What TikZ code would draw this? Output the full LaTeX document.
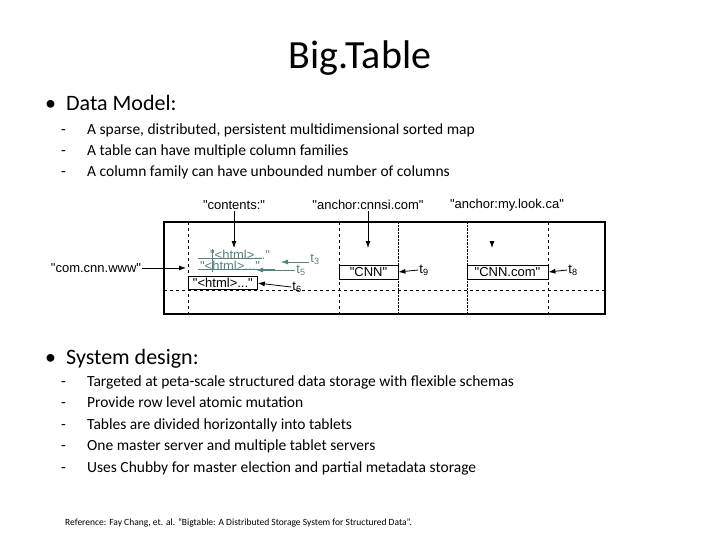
\documentclass[tikz,border=0pt]{standalone}
\usepackage{fontspec}
\usetikzlibrary{arrows.meta}
\setmainfont{Carlito}
\newfontfamily\hv{Liberation Sans}
\begin{document}
\begin{tikzpicture}[x=1pt,y=-1pt,
  lbl/.style={font=\hv\fontsize{13}{14}\selectfont,inner sep=1pt},
  gr/.style={lbl,text=gray!70!teal},
  cell/.style={draw,thick,lbl,inner sep=0pt},
  arr/.style={-{Latex[length=7pt,width=5pt]},thick},
  garr/.style={-{Latex[length=7pt,width=5pt]},thick,gray!70!teal},
  item/.style={anchor=base west,font=\fontsize{15.5}{18}\selectfont,inner sep=0pt},
  head/.style={anchor=base west,font=\fontsize{22}{26}\selectfont,inner sep=0pt}]
\useasboundingbox (0,0) rectangle (720,540);
\node (title) at (360,58) {\fontsize{40}{46}\selectfont Big.Table};
\node[head] (b1) at (45,111) {\textbullet\hspace{10pt}Data Model:};
\foreach \y/\t [count=\i] in {135/{A sparse, distributed, persistent multidimensional sorted map},156/{A table can have multiple column families},177/{A column family can have unbounded number of columns}}{
  \node[item] (d\i) at (61,\y) {-};
  \node[item] (i\i) at (87,\y) {\t};}
% diagram
\draw[line width=2pt] (164,222) rectangle (605,314);
\draw[dashed] (164,290) -- (605,290);
\draw[dashed] (188,222) -- (188,314);
\draw[dashed] (339,222) -- (339,314);
\draw[densely dotted] (398,222) -- (398,314);
\draw[densely dotted] (467,222) -- (467,314);
\draw[dashed] (548,222) -- (548,314);
\node[lbl] (row) at (96,268) {"com.cnn.www"};
\node[lbl] (c1) at (234,205) {"contents:"};
\node[lbl] (c2) at (368,205) {"anchor:cnnsi.com"};
\node[lbl] (c3) at (507,205) {"anchor:my.look.ca"};
\node[cell,minimum width=69pt,minimum height=13pt,anchor=south west] (h6) at (188,290) {"<html>..."};
\node[gr] (h5) at (230,266) {"<html>..."};
\node[gr] (h3) at (240,255) {"<html>..."};
\draw[gray!70!teal] (212,249)--(212,272) (198,258)--(262,258) (198,269)--(275,269);
\node[cell,minimum width=59pt,minimum height=14pt] (cnn) at (368.5,272) {"CNN"};
\node[cell,minimum width=81pt,minimum height=14pt] (cnncom) at (507.5,272) {"CNN.com"};
\node[lbl] (t6) at (297,287) {t\textsubscript{6}};
\node[gr] (t5) at (301,270) {t\textsubscript{5}};
\node[gr] (t3) at (315,259) {t\textsubscript{3}};
\node[lbl] (t9) at (424,270) {t\textsubscript{9}};
\node[lbl] (t8) at (573,270) {t\textsubscript{8}};
\coordinate (a1) at (234,248); \coordinate (a2) at (368,248); \coordinate (a3) at (492,248);
\draw[arr] (c1) -- (a1);
\draw[arr] (c2) -- (a2);
\draw[arr] (492,243) -- (a3);
\draw[arr] (row) -- (186,268);
\draw[arr] (t6.west) -- (h6.east);
\draw[garr] (t5.west) -- (256,270);
\draw[garr] (t3.west) ++(0,3) -- (281,262);
\draw[arr] (t9.west) -- (cnn.east);
\draw[arr] (t8.west) -- (cnncom.east);
\node[head] (b2) at (45,364) {\textbullet\hspace{10pt}System design:};
\foreach \y/\t [count=\i] in {386/{Targeted at peta-scale structured data storage with flexible schemas},407/{Provide row level atomic mutation},429/{Tables are divided horizontally into tablets},450/{One master server and multiple tablet servers},472/{Uses Chubby for master election and partial metadata storage}}{
  \node[item] (e\i) at (61,\y) {-};
  \node[item] (j\i) at (87,\y) {\t};}
\node[anchor=base west,font=\fontsize{9.5}{11}\selectfont,inner sep=0pt] (ref) at (65,525) {Reference: Fay Chang, et. al. ``Bigtable: A Distributed Storage System for Structured Data''.};
\end{tikzpicture}
\end{document}
